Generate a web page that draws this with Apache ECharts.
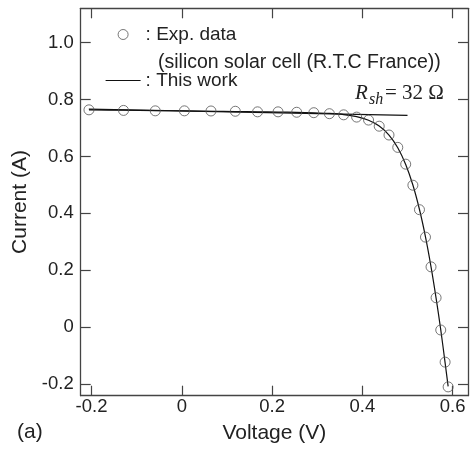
<!DOCTYPE html>
<html>
<head>
<meta charset="utf-8">
<script src="https://cdn.jsdelivr.net/npm/echarts@6/dist/echarts.min.js"></script>
<style>
  html, body {margin: 0; padding: 0; background: #fff;}
  #chart {width: 470px; height: 449px;}
</style>
</head>
<body>
<div id="chart"></div>
<script>
// measured points (silicon solar cell, R.T.C France)
const voltage = [-0.2057, -0.1291, -0.0588, 0.0057, 0.0646, 0.1185, 0.1678, 0.2132, 0.2545, 0.2924,
  0.3269, 0.3585, 0.3873, 0.4137, 0.4373, 0.4590, 0.4784, 0.4960, 0.5119, 0.5265,
  0.5398, 0.5521, 0.5633, 0.5736, 0.5833, 0.5900];
const expCurrent = [0.7640, 0.7620, 0.7605, 0.7605, 0.7600, 0.7590, 0.7570, 0.7570, 0.7555, 0.7540,
  0.7505, 0.7465, 0.7385, 0.7280, 0.7065, 0.6755, 0.6320, 0.5730, 0.4990, 0.4130,
  0.3165, 0.2120, 0.1035, -0.0100, -0.1230, -0.2100];
// fitted curve ("This work")
const modelCurrent = [0.7641, 0.7627, 0.7614, 0.7602, 0.7591, 0.7580, 0.7571, 0.7561, 0.7551, 0.7537,
  0.7514, 0.7474, 0.7401, 0.7274, 0.7070, 0.6753, 0.6308, 0.5720, 0.4996, 0.4136,
  0.3175, 0.2121, 0.1022, -0.0087, -0.1255, -0.2084];
// shunt resistance line, Rsh = 32 ohm
const shuntVoltage = [-0.206, 0.50];
const shuntCurrent = [0.7665, 0.7445];

const xTicks = [-0.2, 0, 0.2, 0.4, 0.6];
const yTicks = [-0.2, 0, 0.2, 0.4, 0.6, 0.8, 1.0];

const sans = "'Liberation Sans', Arial, sans-serif";
const serif = "'Liberation Serif', 'Times New Roman', serif";
const ink = '#222';
const frame = {lineStyle: {color: '#444', width: 1.3}};
const tickStyle = {color: '#444', width: 1.2};

const fmt = v => (Math.abs(v) < 1e-9 ? '0' : v.toFixed(1));

const zip = (a, b) => a.map((v, i) => [v, b[i]]);

const chart = echarts.init(document.getElementById('chart'), null, {renderer: 'canvas'});

const axisBase = {
  type: 'value',
  axisLine: {show: true, onZero: false, ...frame},
  splitLine: {show: false},
};

chart.setOption({
  animation: false,
  backgroundColor: '#fff',
  grid: {left: 80.7, right: 2, top: 8.3, bottom: 53.3},
  legend: {
    orient: 'vertical',
    left: 100,
    top: 20,
    itemWidth: 35,
    itemHeight: 10,
    itemGap: 27,
    textStyle: {fontFamily: sans, fontSize: 19, color: ink},
    data: [
      {name: ': Exp. data', icon: 'circle', itemStyle: {color: 'rgba(0,0,0,0)', borderColor: '#555', borderWidth: 1}},
      {name: ': This work', itemStyle: {opacity: 0}, lineStyle: {color: '#111', width: 1.2}},
    ],
  },
  xAxis: [
    {
      ...axisBase,
      position: 'bottom',
      min: -0.224,
      max: 0.634,
      name: 'Voltage (V)',
      nameLocation: 'middle',
      nameGap: 27,
      nameTextStyle: {fontFamily: sans, fontSize: 21, color: ink},
      axisTick: {inside: true, length: 10, customValues: xTicks, lineStyle: tickStyle},
      axisLabel: {customValues: xTicks, formatter: fmt, margin: 2, fontFamily: sans, fontSize: 18.5, color: ink},
    },
    {
      ...axisBase,
      position: 'top',
      min: -0.224,
      max: 0.634,
      axisTick: {inside: true, length: 10, customValues: xTicks, lineStyle: tickStyle},
      axisLabel: {show: false},
    },
  ],
  yAxis: [
    {
      ...axisBase,
      position: 'left',
      min: -0.241,
      max: 1.121,
      name: 'Current (A)',
      nameLocation: 'middle',
      nameGap: 37,
      nameTextStyle: {fontFamily: sans, fontSize: 21, color: ink},
      axisTick: {inside: true, length: 10, customValues: yTicks, lineStyle: tickStyle},
      axisLabel: {customValues: yTicks, formatter: fmt, margin: 7, fontFamily: sans, fontSize: 18.5, color: ink},
    },
    {
      ...axisBase,
      position: 'right',
      min: -0.241,
      max: 1.121,
      axisTick: {inside: true, length: 10, customValues: yTicks, lineStyle: tickStyle},
      axisLabel: {show: false},
    },
  ],
  series: [
    {
      name: ': This work',
      type: 'line',
      data: zip(voltage, modelCurrent),
      smooth: 0.3,
      showSymbol: false,
      symbol: 'none',
      lineStyle: {color: '#111', width: 1.2},
      itemStyle: {color: '#111'},
      z: 3,
    },
    {
      name: 'shunt',
      type: 'line',
      data: zip(shuntVoltage, shuntCurrent),
      showSymbol: false,
      symbol: 'none',
      lineStyle: {color: '#111', width: 1.2},
      z: 3,
    },
    {
      name: ': Exp. data',
      type: 'scatter',
      data: zip(voltage, expCurrent),
      symbol: 'circle',
      symbolSize: 10,
      itemStyle: {color: 'rgba(0,0,0,0)', borderColor: '#555', borderWidth: 1},
      z: 4,
    },
  ],
  graphic: [
    {type: 'text', left: 158, top: 53,
      style: {text: '(silicon solar cell (R.T.C France))', fontFamily: sans, fontSize: 19.5, fill: ink}},
    {type: 'text', x: 355, y: 93,
      style: {text: 'R', fontFamily: serif, fontStyle: 'italic', fontSize: 21, fill: ink, verticalAlign: 'middle'}},
    {type: 'text', x: 369, y: 100,
      style: {text: 'sh', fontFamily: serif, fontStyle: 'italic', fontSize: 16, fill: ink, verticalAlign: 'middle'}},
    {type: 'text', x: 385, y: 93,
      style: {text: '= 32 Ω', fontFamily: serif, fontSize: 21, fill: ink, verticalAlign: 'middle'}},
    {type: 'text', left: 17, top: 422,
      style: {text: '(a)', fontFamily: sans, fontSize: 21, fill: ink}},
  ],
});
</script>
</body>
</html>
